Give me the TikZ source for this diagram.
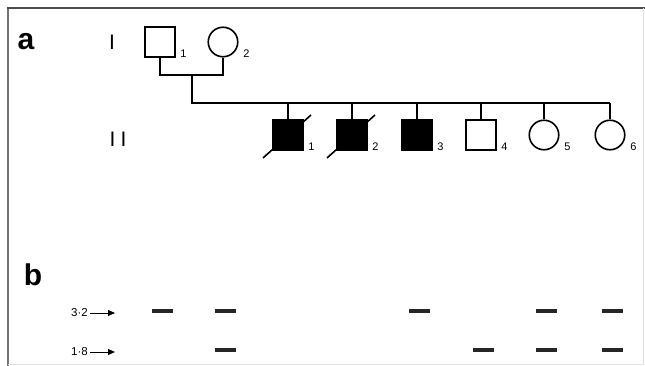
\documentclass[tikz,border=0pt]{standalone}
\usepackage{fontspec}
\setmainfont{Liberation Sans}
\usetikzlibrary{positioning,arrows.meta}
\begin{document}
\begin{tikzpicture}[x = 1pt, y = -1pt,
    ped/.style = {draw, line width = 1.6pt, inner sep = 0pt,
                  minimum size = 29.5pt},
    male/.style = {ped, rectangle},
    female/.style = {ped, circle},
    affected/.style = {fill = black},
    line/.style = {line width = 1.6pt},
    num/.style = {font = \fontsize{11}{11}\selectfont, inner sep = 0pt,
                  anchor = base west},
    gen/.style = {font = \fontsize{21}{21}\selectfont, inner sep = 0pt,
                  anchor = base},
    panel/.style = {font = \fontsize{30}{30}\selectfont\bfseries,
                    inner sep = 0pt, anchor = base},
    kb/.style = {font = \fontsize{11.5}{11.5}\selectfont, inner sep = 0pt,
                 anchor = east},
    band/.style = {fill = black!85, inner sep = 0pt,
                   minimum width = 21pt, minimum height = 3.6pt}]
  \useasboundingbox (0,0) rectangle (645,366);
  % frame
  \draw [line width = 2pt, black!55] (8,366) -- (8,8);
  \draw [line width = 2pt, black!70] (7,8) -- (645,8);
  \draw [line width = 1pt, black!12] (643,8) -- (643,364) -- (8,364);
  % panel a
  \node [panel] (a) at (26,50) {a};
  \node [gen] (gI) at (112,50) {I};
  \node [gen] (gII) at (118,147) {I\kern 5pt I};
  \node [male] (i1) at (160,42) {};
  \node [female] (i2) at (223,42) {};
  \node [male, affected] (ii1) at (288,135) {};
  \node [male, affected] (ii2) at (352,135) {};
  \node [male, affected] (ii3) at (417,135) {};
  \node [male] (ii4) at (481,135) {};
  \node [female] (ii5) at (544,135) {};
  \node [female] (ii6) at (610,135) {};
  \foreach \who/\n in {i1/1, i2/2, ii1/1, ii2/2, ii3/3, ii4/4, ii5/5, ii6/6}
    \node [num] (n-\who) at ([xshift = 4.5pt]\who.east |- \who.south) {\n};
  \coordinate (mate) at (192,75);
  \coordinate (sibs) at (192,103);
  \draw [line] (i1.south) |- (mate) -| (i2.south);
  \draw [line] (mate) -- (sibs) -- (sibs -| ii6.north);
  \foreach \who in {ii1, ii2, ii3, ii4, ii5, ii6}
    \draw [line] (\who.north) -- (\who.north |- sibs);
  % deceased
  \foreach \who in {ii1, ii2}
    \draw [line] ([shift = {(-25,23)}]\who.center) -- ([shift = {(23,-20)}]\who.center);
  % panel b
  \node [panel] (b) at (33,285) {b};
  \node [kb] (k32) at (88,313) {3·2};
  \node [kb] (k18) at (88,352) {1·8};
  \coordinate (a32) at (115,313);
  \coordinate (a18) at (115,352);
  \draw [line width = 1pt, -{Triangle[length = 7pt, width = 6pt]}]
    ([xshift = 2pt]k32.east) -- (a32);
  \draw [line width = 1pt, -{Triangle[length = 7pt, width = 6pt]}]
    ([xshift = 2pt]k18.east) -- (a18);
  \coordinate (row32) at (0,311);
  \coordinate (row18) at (0,350);
  \foreach \who in {i1, i2, ii3, ii5, ii6}
    \node [band] (b32-\who) at ([xshift = 2pt]\who |- row32) {};
  \foreach \who in {i2, ii4, ii5, ii6}
    \node [band] (b18-\who) at ([xshift = 2pt]\who |- row18) {};
\end{tikzpicture}
\end{document}
